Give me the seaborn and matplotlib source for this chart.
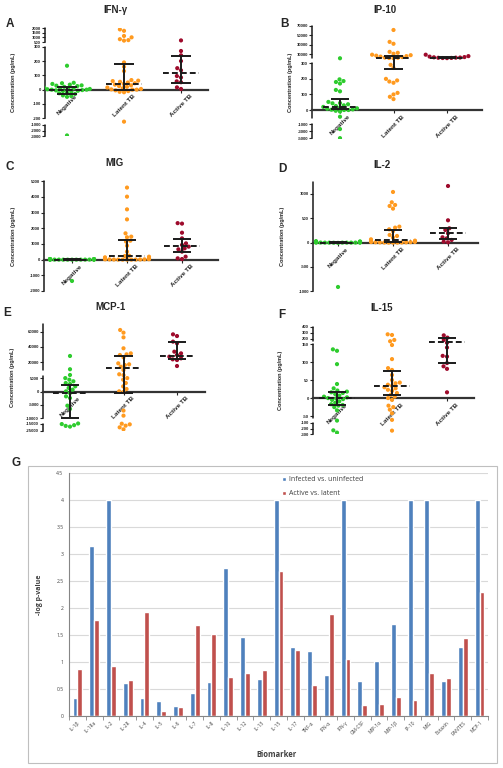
import numpy as np
import pandas as pd
import seaborn as sns
import matplotlib.pyplot as plt
from matplotlib.patches import Rectangle

# ---- data ----
groups = ["Negative", "Latent TB", "Active TB"]

# A: IFN-gamma
ifng_negative = [167, 48, 45, 40, 35, 30, 28, 25, 20, 15, 12, 10, 8, 5, 3, 0, 0, -3, -5, -8,
                 -10, -15, -20, -25, -30, -40, -45, -50, -2900]
ifng_latent = [1850, 1700, 1150, 1000, 800, 700, 650, 190, 160, 130, 67, 63, 60, 55, 50, 45, 40,
               35, 30, 25, 20, 15, 10, 5, 2, 0, 0, -5, -10, -15, -18, -600]
ifng_active = [670, 270, 240, 200, 150, 135, 95, 85, 58, 52, 16, 5]
ifng_median = [-5, 37, 118]
ifng_q1 = [-30, 0, 49]
ifng_q3 = [16, 177, 235]

# B: IP-10
ip10_negative = [1500, 197, 186, 180, 170, 129, 120, 52, 45, 43, 37, 30, 26, 20, 17, 11, 8, 4, 2,
                 0, 0, -5, -10, -43, -2400, -4900]
ip10_latent = [61000, 36000, 32000, 15000, 13000, 11000, 9000, 8000, 7000, 6000, 5000, 4000, 3000,
               2500, 2000, 1500, 290, 270, 200, 190, 183, 175, 110, 100, 85, 70]
ip10_active = [9000, 6000, 5000, 4000, 3500, 3000, 2800, 2500, 2200, 2000, 1800]
ip10_median = [22, 2500, 2700]
ip10_q1 = [5, 265, 2000]
ip10_q3 = [70, 6000, 4000]

# C: MIG
mig_negative = [40, 35, 30, 28, 25, 22, 20, 18, 15, 12, 10, 8, 6, 5, 4, 3, 2, 1, 0, 0, 0, 0, -1360]
mig_latent = [4600, 4020, 3210, 2570, 1680, 1470, 1430, 1210, 1150, 890, 510, 250, 230, 190, 150,
              85, 60, 50, 40, 30, 25, 20, 15, 10, 8, 5, 3, 0, 0, 0]
mig_active = [2330, 2300, 1720, 1360, 1040, 940, 830, 720, 660, 510, 190, 85, 40]
mig_median = [0, 250, 890]
mig_q1 = [0, 0, 470]
mig_q3 = [20, 1230, 1340]

# D: IL-2
il2_negative = [30, 25, 20, 18, 15, 12, 10, 8, 6, 5, 4, 3, 2, 1, 0, 0, 0, 0, 0, -2, -5, -911]
il2_latent = [1041, 829, 774, 753, 699, 329, 308, 274, 233, 158, 137, 103, 68, 41, 30, 25, 20, 15,
              12, 10, 8, 6, 5, 3, 2, 0, 0, 0]
il2_active = [1164, 459, 295, 260, 192, 110, 89, 55, 20, 7]
il2_median = [0, 48, 192]
il2_q1 = [0, 14, 68]
il2_q3 = [5, 260, 295]

# E: MCP-1
mcp1_negative = [28300, 11000, 6500, 5100, 4500, 3900, 3250, 2900, 2000, 1400, 750, 125, -500,
                 -1750, -2400, -5250, -6500, -14800, -15500, -17000, -18000, -19000]
mcp1_latent = [62200, 58700, 52600, 38300, 31700, 30400, 29600, 26500, 18700, 17400, 16500, 14300,
               10000, 7000, 6400, 5100, 4500, 3250, 2000, 1000, 125, -125, -7100, -9000, -15000,
               -15900, -17700, -20000, -22700]
mcp1_active = [56500, 54300, 47000, 44800, 33900, 31700, 29600, 27400, 25200, 23900, 23000, 15200]
mcp1_median = [-375, 12200, 28700]
mcp1_q1 = [-10000, -500, 24300]
mcp1_q3 = [2600, 28300, 46500]

# F: IL-15
il15_negative = [136, 132, 95, 40, 28, 22, 19, 17, 15, 12, 8, 5, 3, 1, 0, -2, -4, -8, -12, -16,
                 -18, -20, -24, -33, -77, -230, -270]
il15_latent = [276, 265, 184, 170, 148, 109, 84, 79, 65, 51, 44, 42, 38, 35, 31, 28, 24, 21, 15,
               10, 5, 1, -4, -20, -24, -31, -41, -70, -235]
il15_active = [259, 222, 184, 160, 141, 118, 116, 98, 89, 82, 17]
il15_median = [2, 35, 165]
il15_q1 = [-17, 10, 98]
il15_q3 = [17, 77, 220]

# G: -log p-values
biomarkers = ["IL-1β", "IL-1Ra", "IL-2", "IL-2R", "IL-4", "IL-5", "IL-6", "IL-7", "IL-8", "IL-10",
              "IL-12", "IL-13", "IL-15", "IL-17", "TNF-α", "IFN-α", "IFN-γ", "GM-CSF", "MIP-1α",
              "MIP-1β", "IP-10", "MIG", "Eotaxin", "RANTES", "MCP-1"]
infected_vs_uninfected = [0.33, 3.15, 4.0, 0.62, 0.33, 0.27, 0.19, 0.43, 0.63, 2.74, 1.46, 0.69,
                          4.0, 1.28, 1.2, 0.76, 4.0, 0.65, 1.02, 1.7, 4.0, 4.0, 0.65, 1.28, 4.0]
active_vs_latent = [0.87, 1.78, 0.93, 0.67, 1.92, 0.1, 0.16, 1.68, 1.51, 0.72, 0.8, 0.86, 2.68,
                    1.23, 0.58, 1.88, 1.05, 0.21, 0.22, 0.36, 0.3, 0.8, 0.7, 1.44, 2.3]

# ---- layout (pixel positions in a 503x768 canvas) ----
W, H = 503, 768
palette = {"Negative": "#2ECC2E", "Latent TB": "#FF9A1F", "Active TB": "#9E0B2C"}

sns.set_theme(style="ticks")
plt.rcParams["font.family"] = ["Liberation Sans", "DejaVu Sans"]

fig = plt.figure(figsize=(W / 100, H / 100), dpi=100)


def add_px_axes(l, t, r, b):
    return fig.add_axes([l / W, 1 - b / H, (r - l) / W, (b - t) / H])


def seg_scale(vals, pxs):
    """Piecewise linear y scale, used to mimic Prism's broken axes."""
    d = np.array(vals, float)
    p = -np.array(pxs, float)
    s0 = (p[1] - p[0]) / (d[1] - d[0])
    s1 = (p[-1] - p[-2]) / (d[-1] - d[-2])
    big = 1e9
    d2 = np.r_[d[0] - big, d, d[-1] + big]
    p2 = np.r_[p[0] - big * s0, p, p[-1] + big * s1]
    return (lambda y: np.interp(y, d2, p2)), (lambda v: np.interp(v, p2, d2))


def scatter_panel(name, letter, values, median, q1, q3, box, cat_px, knots_v, knots_px, ticks,
                  title_xy, letter_xy, ylabel_x):
    l, t, r, b = box
    ax = add_px_axes(l, t, r, b)
    df = pd.DataFrame({"group": np.repeat(groups, [len(v) for v in values]),
                       "value": np.concatenate(values)})
    sns.swarmplot(data=df, x="group", y="value", hue="group", order=groups, palette=palette,
                  size=3, linewidth=0, legend=False, warn_thresh=1, ax=ax, zorder=3)
    pos = np.arange(3)
    ax.hlines(median, pos - 0.32, pos + 0.32, colors="k", linestyles=(0, (3, 1.6)), lw=1.4, zorder=4)
    ax.vlines(pos, q1, q3, colors="k", lw=1.4, zorder=4)
    ax.hlines(q1, pos - 0.17, pos + 0.17, colors="k", lw=1.4, zorder=4)
    ax.hlines(q3, pos - 0.17, pos + 0.17, colors="k", lw=1.4, zorder=4)

    fwd, inv = seg_scale(knots_v, knots_px)
    ax.set_yscale("function", functions=(fwd, inv))
    ax.set_ylim(knots_v[0], knots_v[-1])
    p0, p2 = cat_px[0], cat_px[2]
    s = (p2 - p0) / 2
    ax.set_xlim((l - p0) / s, (r - p0) / s)

    # spines first: moving a spine resets the tick styling
    for side in ["top", "right", "left"]:
        ax.spines[side].set_visible(False)
    ax.spines["bottom"].set_position(("data", 0))
    ax.spines["bottom"].set_color("#333333")
    ax.spines["bottom"].set_linewidth(1.6)
    ax.spines["bottom"].set_zorder(2)

    ax.set_yticks(ticks)
    ax.set_yticklabels([str(v) for v in ticks], fontsize=3.1, fontweight="bold")
    ax.tick_params(axis="y", length=2, width=0.8, pad=1)
    ax.set_xticks(pos)
    ax.set_xticklabels(groups, rotation=45, ha="center", va="top", fontsize=4.6, fontweight="bold")
    ax.tick_params(axis="x", length=2, width=0.8, pad=1)
    ax.set_xlabel("")

    # segmented y axis
    for i in range(0, len(knots_v), 2):
        ax.plot([0, 0], [knots_v[i], knots_v[i + 1]], transform=ax.get_yaxis_transform(),
                color="k", lw=1.1, clip_on=False)

    ax.set_ylabel("Concentration (pg/mL)", fontsize=4, fontweight="bold")
    ax.yaxis.set_label_coords((ylabel_x - l) / (r - l), 0.5)
    fig.text(title_xy[0] / W, 1 - title_xy[1] / H, name, ha="center", va="center",
             fontsize=7, fontweight="bold")
    fig.text(letter_xy[0] / W, 1 - letter_xy[1] / H, letter, ha="left", va="center",
             fontsize=8.5, fontweight="bold")
    return ax


scatter_panel("IFN-γ", "A", [ifng_negative, ifng_latent, ifng_active], ifng_median, ifng_q1, ifng_q3,
              (45, 28, 208, 136), (67, 125, 181),
              [-3000, -1000, -200, 300, 500, 2000], [136, 125, 118.3, 46.7, 42, 28],
              [2000, 1500, 1000, 500, 300, 200, 100, 0, -100, -200, -1000, -2000, -3000],
              (115, 10), (6, 24), 15.7)

scatter_panel("IP-10", "B", [ip10_negative, ip10_latent, ip10_active], ip10_median, ip10_q1, ip10_q3,
              (312, 25.7, 482, 138.5), (340, 393, 447),
              [-5000, -1000, -50, 300, 1000, 70000], [138.5, 124, 117.8, 63.3, 58.5, 25.7],
              [70000, 50000, 30000, 10000, 300, 200, 100, 0, -1000, -3000, -5000],
              (385, 10), (280, 24), 292.7)

scatter_panel("MIG", "C", [mig_negative, mig_latent, mig_active], mig_median, mig_q1, mig_q3,
              (44, 181.3, 218, 291), (72, 127, 182),
              [-2000, 5000], [291, 181.3],
              [5000, 4000, 3000, 2000, 1000, 0, -1000, -2000],
              (115, 163), (6, 167), 15.7)

scatter_panel("IL-2", "D", [il2_negative, il2_latent, il2_active], il2_median, il2_q1, il2_q3,
              (313, 181.8, 478, 291.3), (338, 393, 448),
              [-1000, 1250], [291.3, 181.8],
              [1000, 500, 0, -500, -1000],
              (382, 165), (278, 169), 285)

scatter_panel("MCP-1", "E", [mcp1_negative, mcp1_latent, mcp1_active], mcp1_median, mcp1_q1, mcp1_q3,
              (43, 324, 205, 431), (70, 123, 177),
              [-25000, -15000, -10000, 6000, 10000, 70000], [431, 423.7, 418.3, 375.7, 370, 324],
              [60000, 40000, 20000, 5000, 0, -5000, -10000, -15000, -25000],
              (110, 307), (3, 313), 15)

scatter_panel("IL-15", "F", [il15_negative, il15_latent, il15_active], il15_median, il15_q1, il15_q3,
              (313, 326.7, 474, 434.3), (337, 392, 447),
              [-300, -100, -55, 150, 175, 400], [434.3, 423, 418.3, 344.3, 340.5, 326.7],
              [400, 300, 200, 150, 100, 50, 0, -50, -100, -200, -300],
              (382, 308), (278, 315), 283.3)

# ---- panel G: Excel-style grouped bars ----
fig.add_artist(Rectangle((28 / W, 1 - 763 / H), (497 - 28) / W, (763 - 466) / H,
                         transform=fig.transFigure, fill=False, edgecolor="#BFBFBF", lw=0.8))
fig.text(12 / W, 1 - 463 / H, "G", ha="left", va="center", fontsize=8.5, fontweight="bold")

axg = add_px_axes(69, 473, 488, 716)
bars = pd.DataFrame({
    "Biomarker": biomarkers * 2,
    "comparison": ["Infected vs. uninfected"] * len(biomarkers) + ["Active vs. latent"] * len(biomarkers),
    "value": infected_vs_uninfected + active_vs_latent,
})
sns.barplot(data=bars, x="Biomarker", y="value", hue="comparison", order=biomarkers,
            palette=["#4F81BD", "#C0504D"], saturation=1, width=0.58, gap=0, ax=axg)

excel_font = ["Open Sans", "DejaVu Sans"]
axg.set_ylim(0, 4.5)
axg.set_xlim(-0.5, len(biomarkers) - 0.5)
yt = np.arange(0, 4.51, 0.5)
axg.set_yticks(yt)
axg.set_yticklabels([f"{v:g}" for v in yt], fontsize=3.6, color="#404040", family=excel_font)
axg.set_xticks(np.arange(len(biomarkers)))
axg.set_xticklabels(biomarkers, rotation=45, ha="right", rotation_mode="anchor",
                    fontsize=3.5, color="#404040", family=excel_font)
axg.set_xticks(np.arange(-0.5, len(biomarkers)), minor=True)
axg.tick_params(axis="x", which="major", length=0, pad=3)
axg.tick_params(axis="x", which="minor", length=3, width=0.6, color="#868686")
axg.tick_params(axis="y", length=0, pad=4)
axg.yaxis.grid(True, color="#D9D9D9", lw=0.8)
axg.set_axisbelow(True)
for side in ["top", "right"]:
    axg.spines[side].set_visible(False)
for side in ["left", "bottom"]:
    axg.spines[side].set_color("#868686")
    axg.spines[side].set_linewidth(0.8)

axg.set_ylabel("-log p-value", fontsize=5, fontweight="bold", color="#404040", family=excel_font)
axg.yaxis.set_label_coords(-0.062, 0.5)
axg.set_xlabel("Biomarker", fontsize=5.5, fontweight="bold", color="#404040", family=excel_font)
axg.xaxis.set_label_coords(0.496, -0.14)

h, lab = axg.get_legend_handles_labels()
axg.legend(h, lab, loc="upper left", bbox_to_anchor=(0.5, 1.0), frameon=False, borderpad=0,
           prop={"family": excel_font, "size": 5}, handlelength=0.6, handleheight=0.6,
           handletextpad=0.4, labelspacing=1.0, labelcolor="#404040")

fig.savefig("out.png", dpi=100)
